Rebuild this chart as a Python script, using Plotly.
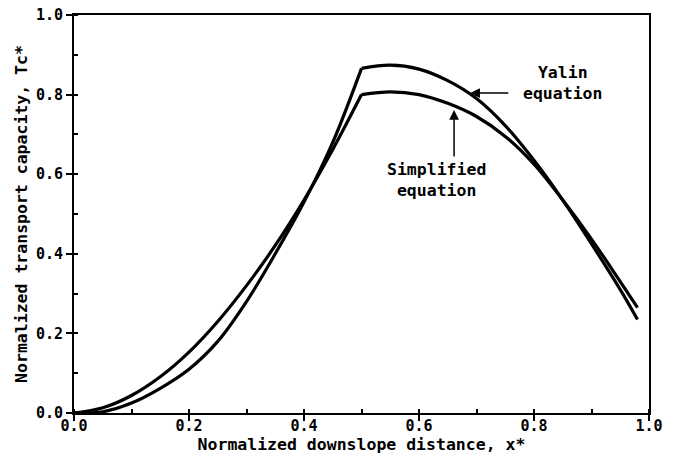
import plotly.graph_objects as go

# Normalized downslope distance x*
x_vals = [0.0, 0.05, 0.10, 0.15, 0.20, 0.25, 0.30, 0.35, 0.40, 0.45, 0.50,
          0.55, 0.60, 0.65, 0.70, 0.75, 0.80, 0.85, 0.90, 0.95, 0.98]

# Yalin equation, Tc*
yalin = [0.0, 0.003, 0.025, 0.062, 0.11, 0.18, 0.28, 0.40, 0.53, 0.68, 0.866,
         0.874, 0.864, 0.835, 0.79, 0.722, 0.635, 0.535, 0.425, 0.31, 0.235]

# Simplified equation, Tc*
simplified = [0.0, 0.013, 0.044, 0.091, 0.153, 0.23, 0.32, 0.421, 0.535, 0.662, 0.80,
              0.807, 0.80, 0.778, 0.745, 0.695, 0.625, 0.535, 0.437, 0.33, 0.265]

BREAK = 10  # slope break at x* = 0.5 (sharp corner in both curves)
FONT = "DejaVu Sans Mono"

fig = go.Figure()
for name, ys in (("Yalin equation", yalin), ("Simplified equation", simplified)):
    for seg in (slice(0, BREAK + 1), slice(BREAK, None)):
        fig.add_trace(go.Scatter(x=x_vals[seg], y=ys[seg], mode="lines", name=name,
                                 line=dict(color="black", width=3.2, shape="spline",
                                           smoothing=1.0)))

axis_common = dict(
    showgrid=False, zeroline=False, showline=True, linecolor="black", linewidth=2,
    mirror=True, ticks="outside", ticklen=6, tickwidth=2, tickcolor="black",
    dtick=0.2, tickformat=".1f", automargin=False, ticklabeloverflow="allow",
    minor=dict(ticks="inside", dtick=0.1, ticklen=4, tickwidth=2, tickcolor="black"),
    tickfont=dict(family=FONT, size=15, color="black"),
    tickprefix="<b>", ticksuffix="</b>",
)

fig.update_xaxes(range=[0, 1], **axis_common, ticklabelstandoff=-8,
                 title=dict(text="<b>Normalized downslope distance, x*</b>",
                            font=dict(family=FONT, size=16.5, color="black"), standoff=0))
fig.update_yaxes(range=[0, 1], **axis_common,
                 title=dict(text="<b>Normalized transport capacity, Tc*</b>",
                            font=dict(family=FONT, size=16.5, color="black"), standoff=4))

# labels
fig.add_annotation(x=0.850, y=0.829, xref="x", yref="y", text="<b>Yalin<br>equation</b>",
                   showarrow=False, font=dict(family=FONT, size=16.5, color="black"))
fig.add_annotation(x=0.630, y=0.585, xref="x", yref="y", text="<b>Simplified<br>equation</b>",
                   showarrow=False, font=dict(family=FONT, size=16.5, color="black"))
# arrows
fig.add_annotation(x=0.689, y=0.804, ax=0.758, ay=0.804, xref="x", yref="y",
                   axref="x", ayref="y", text="", showarrow=True,
                   arrowhead=2, arrowsize=1.3, arrowwidth=1.5, arrowcolor="black")
fig.add_annotation(x=0.661, y=0.761, ax=0.661, ay=0.641, xref="x", yref="y",
                   axref="x", ayref="y", text="", showarrow=True,
                   arrowhead=2, arrowsize=1.3, arrowwidth=1.5, arrowcolor="black")

fig.update_layout(
    width=673, height=466,
    margin=dict(l=74, r=24, t=15, b=53),
    paper_bgcolor="white", plot_bgcolor="white",
    showlegend=False,
    font=dict(family=FONT, color="black"),
)

# remove the default 8px page margin so the figure fills the window exactly
fig.write_html("out.html", config={"displayModeBar": False},
               post_script="document.body.style.margin='0';document.body.style.overflow='hidden';")
